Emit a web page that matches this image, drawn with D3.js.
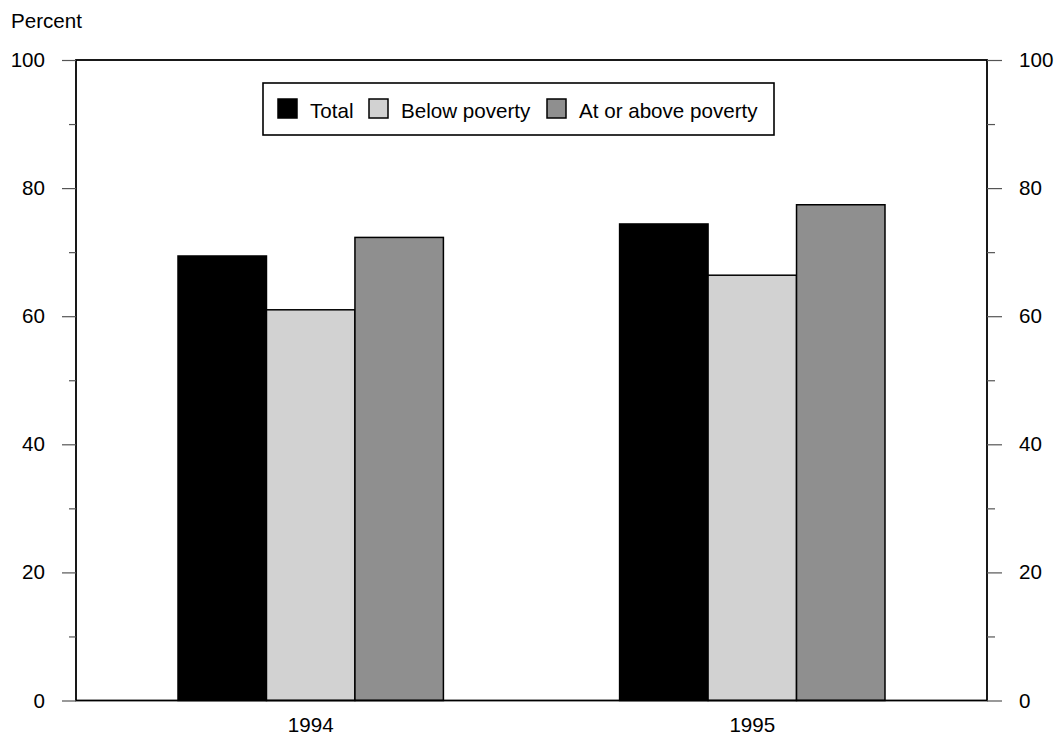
<!DOCTYPE html>
<html><head><meta charset="utf-8">
<script src="https://cdn.jsdelivr.net/npm/d3@7"></script>
<style>body{margin:0;background:#fff}svg{display:block}text{font-family:"Liberation Sans",Arial,sans-serif;}</style>
</head><body><svg id="c" width="1056" height="737"></svg>
<script>
const years = ["1994", "1995"];
const seriesNames = ["Total", "Below poverty", "At or above poverty"];
const totalValues = [69.4, 74.4];
const belowValues = [61.0, 66.4];
const aboveValues = [72.3, 77.4];
const majorTicks = [0, 20, 40, 60, 80, 100];
const minorTicks = [10, 30, 50, 70, 90];
const colors = ["#000000", "#d2d2d2", "#8f8f8f"];

const FS = 20.6;
const svg = d3.select("#c");
const L = 76, R = 987, T = 60, B = 700.5;
const y = d3.scaleLinear().domain([0, 100]).range([B, T]);
const x0 = d3.scaleBand().domain(years).range([L, R]).paddingInner(0.399).paddingOuter(0.231);
const x1 = d3.scaleBand().domain(seriesNames).range([0, x0.bandwidth()]);

const data = years.map((yr, i) => ({year: yr, vals: [totalValues[i], belowValues[i], aboveValues[i]]}));

// bars
const g = svg.append("g");
data.forEach(d => {
  seriesNames.forEach((s, j) => {
    g.append("rect")
      .attr("x", x0(d.year) + x1(s))
      .attr("y", y(d.vals[j]))
      .attr("width", x1.bandwidth())
      .attr("height", y(0) - y(d.vals[j]))
      .attr("fill", colors[j])
      .attr("stroke", "#000").attr("stroke-width", 1.5);
  });
});

// frame
svg.append("rect").attr("x", L).attr("y", T).attr("width", R - L).attr("height", B - T)
  .attr("fill", "none").attr("stroke", "#000").attr("stroke-width", 1.8);

// axes
const leftAxis = d3.axisLeft(y).tickValues(majorTicks).tickSize(14).tickPadding(17);
const rightAxis = d3.axisRight(y).tickValues(majorTicks).tickSize(15).tickPadding(17);
const styleAxis = sel => {
  sel.select(".domain").remove();
  sel.selectAll(".tick line").attr("stroke", "#555").attr("stroke-width", 1.2);
  sel.selectAll(".tick text").attr("font-size", FS).attr("fill", "#000")
     .attr("font-family", "'Liberation Sans', Arial, sans-serif");
};
svg.append("g").attr("transform", `translate(${L},0)`).call(leftAxis).call(styleAxis);
svg.append("g").attr("transform", `translate(${R},0)`).call(rightAxis).call(styleAxis);
svg.append("g").attr("transform", `translate(${L},0)`)
  .call(d3.axisLeft(y).tickValues(minorTicks).tickSize(7).tickFormat(""))
  .call(styleAxis);
svg.append("g").attr("transform", `translate(${R},0)`)
  .call(d3.axisRight(y).tickValues(minorTicks).tickSize(8).tickFormat(""))
  .call(styleAxis);

// x axis labels
const xAxis = d3.axisBottom(x0).tickSize(0).tickPadding(17);
svg.append("g").attr("transform", `translate(0,${B})`).call(xAxis).call(sel => {
  sel.select(".domain").remove();
  sel.selectAll(".tick text").attr("font-size", FS).attr("fill", "#000")
     .attr("font-family", "'Liberation Sans', Arial, sans-serif");
});

// y title
svg.append("text").attr("x", 11).attr("y", 28).attr("font-size", FS).text("Percent");

// legend
svg.append("rect").attr("x", 263).attr("y", 83).attr("width", 511).attr("height", 52)
  .attr("fill", "#fff").attr("stroke", "#000").attr("stroke-width", 1.6);
const legX = [278, 369, 547];
seriesNames.forEach((s, j) => {
  svg.append("rect").attr("x", legX[j]).attr("y", 99).attr("width", 19).attr("height", 19)
    .attr("fill", colors[j]).attr("stroke", "#000").attr("stroke-width", 1.5);
  svg.append("text").attr("x", legX[j] + 32).attr("y", 117.5).attr("font-size", FS).text(s);
});
</script></body></html>
